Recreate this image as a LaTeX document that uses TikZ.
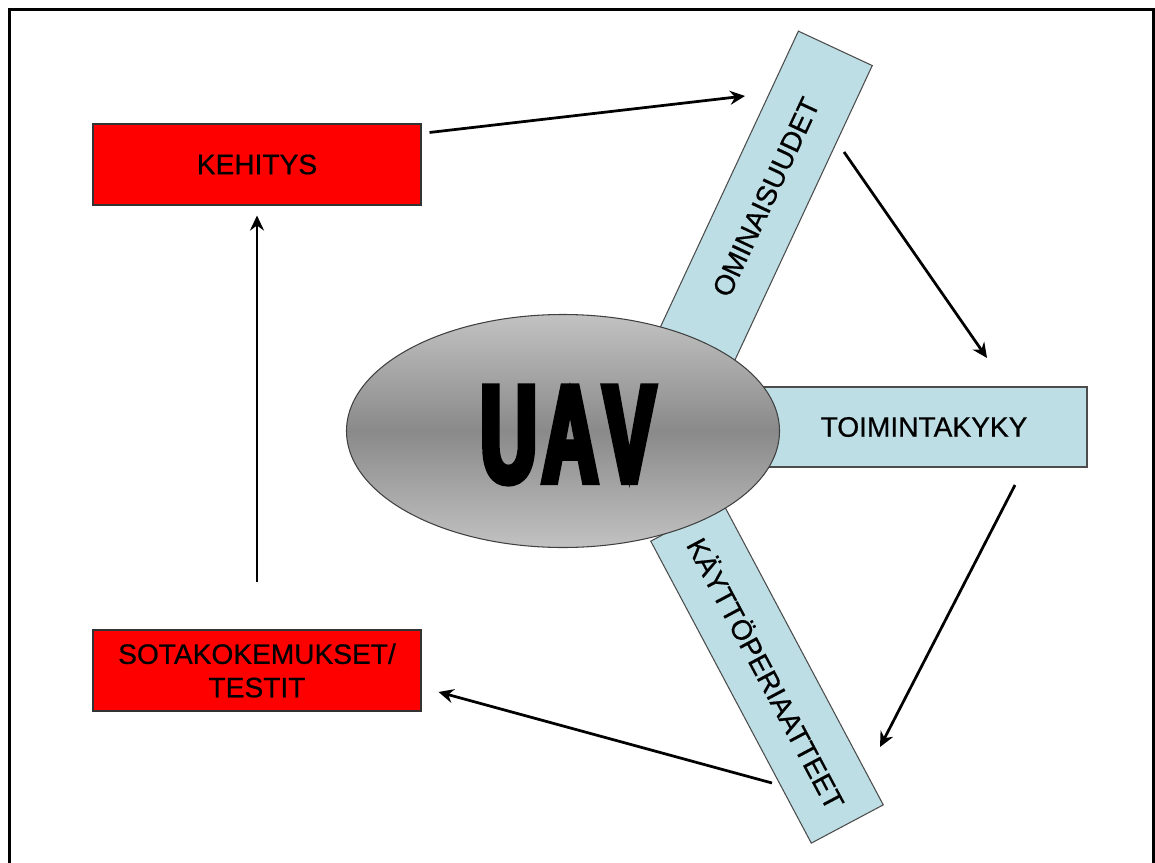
\documentclass[tikz,border=0pt]{standalone}
\usepackage{fontspec}
\setmainfont{Liberation Sans}
\newfontfamily\LabelFace[FakeBold=0.6]{Liberation Sans}
\newfontfamily\UavFont[FakeStretch=0.56,FakeBold=4.5]{Liberation Sans}
\usepackage{tikz}
\usetikzlibrary{arrows.meta,shapes.geometric,calc,positioning}
\definecolor{boxred}{HTML}{FF0000}
\definecolor{barblue}{HTML}{BCDEE4}
\newcommand{\UavLabelFont}{\fontsize{16pt}{19pt}\selectfont\LabelFace}
\newcommand{\UavHubFont}{\fontsize{79pt}{80pt}\selectfont\UavFont\bfseries}
\tikzset{
  redbox/.style={
    draw=black!80, fill=boxred, line width=0.6pt,
    minimum width=65.6mm, minimum height=16.2mm,
    inner sep=0, align=center, font=\UavLabelFont
  },
  barbox/.style={
    draw=black!70, fill=barblue, line width=0.6pt,
    minimum height=16.3mm, inner sep=0, font=\UavLabelFont
  },
  hub/.style={
    ellipse, draw=black!75, line width=0.6pt,
    top color=black!24, bottom color=black!24, middle color=black!46,
    minimum width=86.6mm, minimum height=46.6mm, inner sep=0
  },
  flow/.style={
    -{Stealth[length=3mm,width=2.8mm,inset=1mm]}, line width=0.55mm, draw=black
  },
  frame/.style={line width=0.6mm, draw=black}
}

\begin{document}
\begin{tikzpicture}[x=0.2mm,y=-0.2mm]
  \useasboundingbox (0,0) rectangle (1155,863);
  \draw[frame] (9.5,863) -- (9.5,10) -- (1153.5,10) -- (1153.5,863);

  % the three bars sit behind the hub
  \node[barbox, rotate=65, minimum width=65.6mm] (omin) at (766,197) {OMINAISUUDET};
  \node[barbox, rotate=-62, minimum width=68.4mm] (kayt) at (767,673) {KÄYTTÖPERIAATTEET};
  \node[barbox, minimum width=65.2mm, minimum height=16mm] (toim) at (924,427) {TOIMINTAKYKY};
  \node[hub] (uav) at (563,431) {};
  \node[font=\UavHubFont] (uavtext) at (568,435) {U\kern3pt A\kern3pt V};

  \node[redbox] (kehitys) at (257,164.5) {KEHITYS};
  \node[redbox] (sota) at (257,670.5) {SOTAKOKEMUKSET/\\TESTIT};

  \coordinate (ominIn) at (745,96);
  \coordinate (ominOut) at (844,152);
  \coordinate (toimIn) at (987,358);
  \coordinate (toimOut) at (1015,485);
  \coordinate (kaytIn) at (880,747);
  \coordinate (kaytOut) at (772,783);

  \draw[flow] ([shift={(8,9)}]kehitys.north east) -- (ominIn);
  \draw[flow] (ominOut) -- (toimIn);
  \draw[flow] (toimOut) -- (kaytIn);
  \draw[flow] (kaytOut) -- ([shift={(17,21.5)}]sota.east);
  \draw[flow] ([shift={(0,-47)}]sota.north) -- ([shift={(0,10)}]kehitys.south);
\end{tikzpicture}
\end{document}
